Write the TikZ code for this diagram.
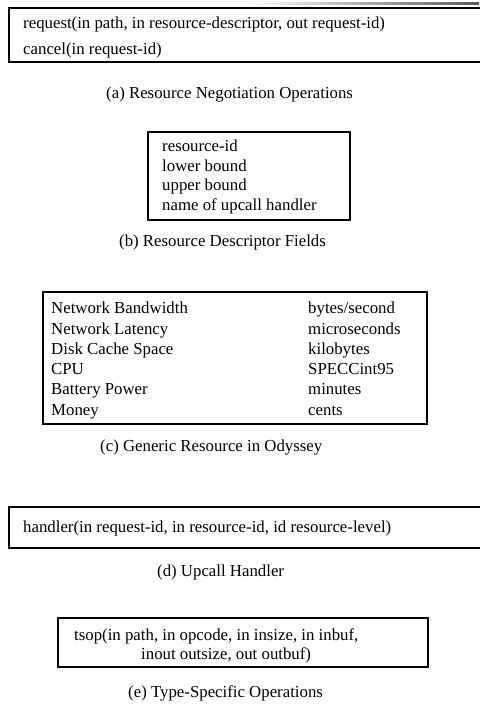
\documentclass[tikz,border=0pt]{standalone}
\usepackage{fontspec}
\setmainfont{Liberation Serif}
\begin{document}
\begin{tikzpicture}[x=1pt,y=-1pt,
  boxline/.style={draw=black,line width=1.1pt},
  txt/.style={anchor=west,inner sep=0pt,text height=11pt,text depth=3.5pt,font=\fontsize{16.8}{19}\selectfont},
  captxt/.style={txt}]
\useasboundingbox (0,0) rectangle (479,706);
% (a)
\fill[left color=white,right color=black!65] (250,2.2) rectangle (479,4.2);
\draw[boxline] (480,8) -- (9,8) -- (9,62) -- (480,62);
\node[txt] (a1) at (23,25) {request(in path, in resource-descriptor, out request-id)};
\node[txt] (a2) at (23,51) {cancel(in request-id)};
\node[captxt] (ca) at (106,95) {(a) Resource Negotiation Operations};
% (b)
\draw[boxline] (148,132) rectangle (350,220);
\node[txt] (b1) at (162,148) {resource-id};
\node[txt] (b2) at (162,167.5) {lower bound};
\node[txt] (b3) at (162,187) {upper bound};
\node[txt] (b4) at (162,206.5) {name of upcall handler};
\node[captxt] (cb) at (119,243) {(b) Resource Descriptor Fields};
% (c)
\draw[boxline] (43,292) rectangle (427,424);
\foreach \i/\l/\r in {0/Network Bandwidth/bytes\slash second,1/Network Latency/microseconds,2/Disk Cache Space/kilobytes,3/CPU/SPECCint95,4/Battery Power/minutes,5/Money/cents}{
  \node[txt] (cl\i) at (51,{310+\i*20.3}) {\l};
  \node[txt] (cr\i) at (308,{310+\i*20.3}) {\r};
}
\node[captxt] (cc) at (100,448) {(c) Generic Resource in Odyssey};
% (d)
\draw[boxline] (480,507) -- (9,507) -- (9,548) -- (480,548);
\node[txt] (d1) at (23,529) {handler(in request-id, in resource-id, id resource-level)};
\node[captxt] (cd) at (157,573) {(d) Upcall Handler};
% (e)
\draw[boxline] (58,618) rectangle (428,667);
\node[txt] (e1) at (74,637) {tsop(in path, in opcode, in insize, in inbuf,};
\node[txt] (e2) at (141,656) {inout outsize, out outbuf)};
\node[captxt] (ce) at (128,694) {(e) Type-Specific Operations};
\end{tikzpicture}
\end{document}
